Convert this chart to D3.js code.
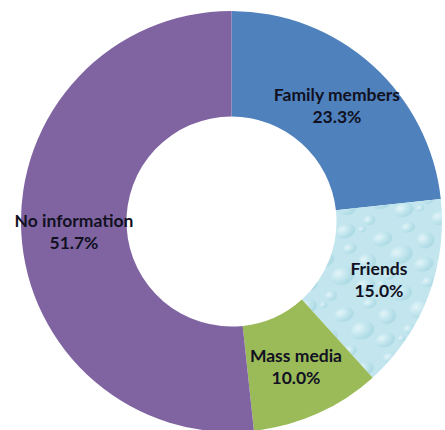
<!DOCTYPE html>
<html>
<head>
<meta charset="utf-8">
<script src="https://cdn.jsdelivr.net/npm/d3@7"></script>
<style>
  html, body { margin: 0; padding: 0; background: #fff; }
  svg { display: block; }
  .slice-label { font-family: Lato, "Open Sans", sans-serif; font-weight: 700; fill: #111122; }
</style>
</head>
<body>
<div id="chart"></div>
<script>
// data
const categories = ['Family members', 'Friends', 'Mass media', 'No information'];
const percentages = [23.3, 15.0, 10.0, 51.7];
const sliceColors = ['#4f81bd', 'url(#droplets)', '#9bbb59', '#8064a2'];

const width = 445, height = 430;
const cx = 231.5, cy = 221.5;
const outerR = 210.5, innerR = 105;

const svg = d3.select('#chart').append('svg')
  .attr('width', width)
  .attr('height', height);

// water droplet texture for the "Friends" slice
const defs = svg.append('defs');
const grad = defs.append('radialGradient')
  .attr('id', 'drop-grad')
  .attr('cx', '35%').attr('cy', '30%').attr('r', '70%');
grad.append('stop').attr('offset', '0%').attr('stop-color', '#f4fcfe');
grad.append('stop').attr('offset', '40%').attr('stop-color', '#cdebf2');
grad.append('stop').attr('offset', '100%').attr('stop-color', '#9ed2de');

const pattern = defs.append('pattern')
  .attr('id', 'droplets')
  .attr('patternUnits', 'userSpaceOnUse')
  .attr('width', 62).attr('height', 58)
  .attr('patternTransform', 'rotate(-20)');
pattern.append('rect').attr('width', 62).attr('height', 58).attr('fill', '#c3e6ee');
const drops = [
  {x: 12, y: 10, rx: 10, ry: 7},
  {x: 40, y: 8, rx: 7, ry: 5},
  {x: 52, y: 26, rx: 9, ry: 8},
  {x: 24, y: 31, rx: 12, ry: 9},
  {x: 6, y: 46, rx: 6, ry: 5},
  {x: 42, y: 48, rx: 10, ry: 7},
  {x: 58, y: 52, rx: 4, ry: 3}
];
pattern.selectAll('ellipse')
  .data(drops)
  .join('ellipse')
  .attr('cx', d => d.x).attr('cy', d => d.y)
  .attr('rx', d => d.rx).attr('ry', d => d.ry)
  .attr('fill', 'url(#drop-grad)')
  .attr('opacity', 0.65);

const pie = d3.pie().sort(null).value(d => d.value);
const arc = d3.arc().innerRadius(innerR).outerRadius(outerR);

const data = categories.map((c, i) => ({name: c, value: percentages[i], color: sliceColors[i]}));
const arcs = pie(data);

const g = svg.append('g').attr('transform', `translate(${cx},${cy})`);

g.selectAll('path.slice')
  .data(arcs)
  .join('path')
  .attr('class', 'slice')
  .attr('d', arc)
  .attr('fill', d => d.data.color)
  .attr('stroke', 'none');

// labels sit at the centroid of each ring section, two lines
const labels = g.selectAll('text.slice-label')
  .data(arcs)
  .join('text')
  .attr('class', 'slice-label')
  .attr('text-anchor', 'middle')
  .attr('font-size', 17.5)
  .attr('transform', d => `translate(${arc.centroid(d)})`);

labels.append('tspan')
  .attr('x', 0)
  .attr('y', -3)
  .text(d => d.data.name);
labels.append('tspan')
  .attr('x', 0)
  .attr('y', 19)
  .text(d => d.data.value.toFixed(1) + '%');
</script>
</body>
</html>
